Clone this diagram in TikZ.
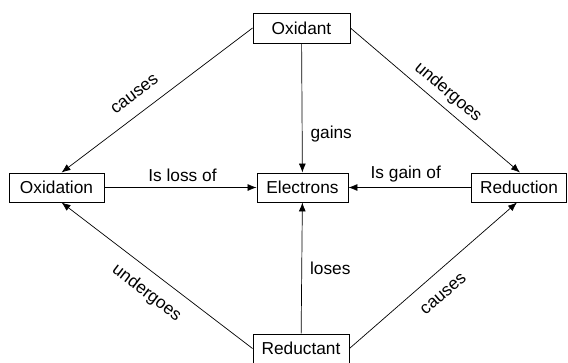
\documentclass[tikz,border=0pt]{standalone}
\usepackage{fontspec}
\setmainfont{Liberation Sans}
\usetikzlibrary{arrows.meta}
\begin{document}
\begin{tikzpicture}[x=1pt,y=-1pt,
  box/.style={draw,line width=0.9pt,inner sep=0pt,minimum height=29pt,font=\fontsize{17.3}{20}\selectfont},
  conn/.style={line width=0.7pt,-{Latex[length=9pt,width=7pt]}},
  lbl/.style={font=\fontsize{17.3}{20}\selectfont,inner sep=1pt}]
\useasboundingbox (0,0) rectangle (568,362);
\node[box,minimum width=97pt,minimum height=30pt] (oxidant) at (301.5,28) {Oxidant};
\node[box,minimum width=95pt] (oxidation) at (56.5,187.5) {Oxidation};
\node[box,minimum width=91pt] (electrons) at (302.5,187.5) {Electrons};
\node[box,minimum width=95pt] (reduction) at (519,187.5) {Reduction};
\node[box,minimum width=96pt] (reductant) at (301,348.5) {Reductant};

\draw[conn] (oxidant.west) -- ([xshift=5pt]oxidation.north)
  node[lbl,pos=0.56,sloped,above=12pt] {causes};
\draw[conn] (oxidant.east) -- ([xshift=1pt]reduction.north)
  node[lbl,pos=0.52,sloped,above=5pt] {undergoes};
\draw[conn] (oxidant) -- (electrons)
  node[lbl,pos=0.7,right=7pt] {gains};
\draw[conn] (oxidation) -- (electrons)
  node[lbl,midway,above=4pt,xshift=2pt] {Is loss of};
\draw[conn] (reduction) -- (electrons)
  node[lbl,midway,above=4pt,xshift=-4pt] {Is gain of};
\draw[conn] (reductant) -- (electrons)
  node[lbl,pos=0.5,right=7pt] {loses};
\draw[conn] (reductant.west) -- ([xshift=5pt]oxidation.south)
  node[lbl,pos=0.49,sloped,below=11pt] {undergoes};
\draw[conn] (reductant.east) -- ([xshift=-2pt]reduction.south)
  node[lbl,pos=0.48,sloped,below=14.5pt] {causes};
\end{tikzpicture}
\end{document}
